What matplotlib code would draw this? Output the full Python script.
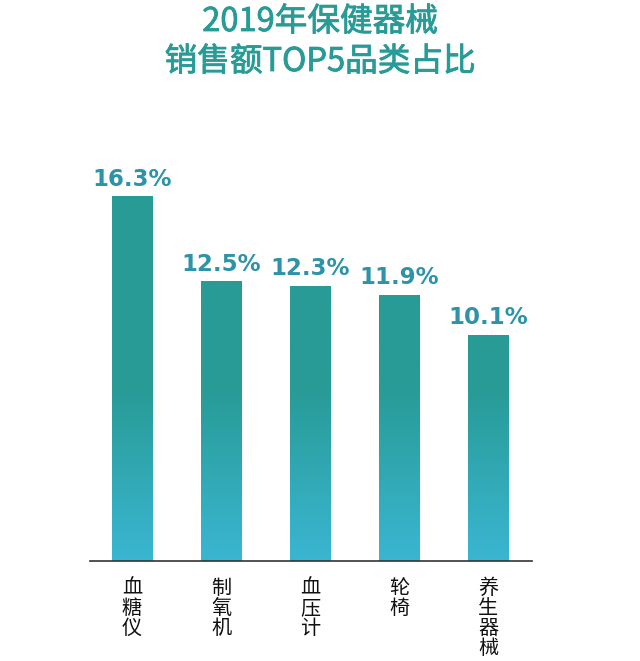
import matplotlib.pyplot as plt
import matplotlib.patheffects as pe
import numpy as np
from matplotlib.colors import LinearSegmentedColormap

plt.rcParams['font.family'] = ['Noto Sans CJK SC', 'DejaVu Sans']

categories = ['血糖仪', '制氧机', '血压计', '轮椅', '养生器械']
values = [16.3, 12.5, 12.3, 11.9, 10.1]
labels = ['16.3%', '12.5%', '12.3%', '11.9%', '10.1%']

teal = '#289b96'
blue = '#3ab6d2'

fig = plt.figure(figsize=(6.4, 6.61), dpi=100)
ax = fig.add_axes([90 / 640, 1 - 561 / 661, 442 / 640, 411 / 661])

x = np.arange(len(categories))
bars = ax.bar(x, values, width=0.45, color='none')

# vertical gradient: blue at the bottom, teal from a bit below the middle up
cmap = LinearSegmentedColormap.from_list('g', [(0, blue), (0.42, teal), (1, teal)], N=256)
grad = np.linspace(0, 1, 256).reshape(-1, 1)
ymax = 18.36
for b in bars:
    x0 = b.get_x()
    im = ax.imshow(grad, cmap=cmap, aspect='auto', origin='lower',
                   extent=[x0, x0 + b.get_width(), 0, ymax], zorder=2)
    im.set_clip_path(b)

for xi, v, lab in zip(x, values, labels):
    ax.text(xi, v + 0.25, lab, ha='center', va='bottom', fontsize=16.5,
            fontweight='bold', color='#2d93a8', family=['DejaVu Sans'])

for xi, c in zip(x, categories):
    ax.text(xi, -0.75, '\n'.join(c), ha='center', va='top', fontsize=14.5,
            color='#111111', linespacing=0.95)

ax.set_xlim(-0.472, 4.494)
ax.set_ylim(0, ymax)
for s in ['top', 'right', 'left']:
    ax.spines[s].set_visible(False)
ax.spines['bottom'].set_color('#333333')
ax.spines['bottom'].set_linewidth(1.2)
ax.set_xticks([])
ax.set_yticks([])

# semi-bold look for the title
stroke = [pe.withStroke(linewidth=0.6, foreground=teal)]
fig.text(0.5, 1 - 22 / 661, '2019年保健器械', ha='center', va='center',
         fontsize=23.5, color=teal, path_effects=stroke)
fig.text(0.5, 1 - 62 / 661, '销售额TOP5品类占比', ha='center', va='center',
         fontsize=23.5, color=teal, path_effects=stroke)

fig.savefig('out.png', dpi=100, facecolor='white')
